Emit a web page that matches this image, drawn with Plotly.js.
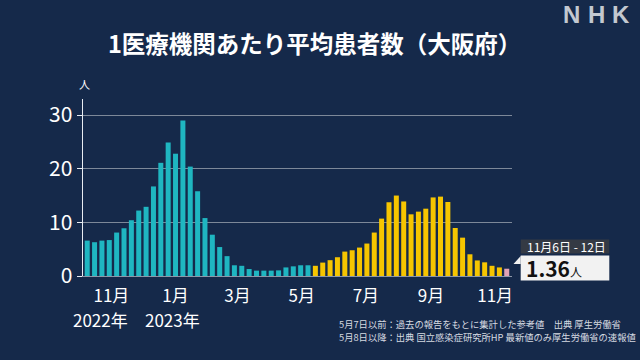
<!DOCTYPE html>
<html><head><meta charset="utf-8">
<script src="https://cdn.plot.ly/plotly-3.0.1.min.js"></script>
<style>html,body{margin:0;padding:0;background:#15294a;}#chart{width:640px;height:360px;}</style>
</head><body><div id="chart"></div>
<script>
// Week-ending dates (Sunday) of each weekly bar
const weekEnds = [
  '2022-10-09','2022-10-16','2022-10-23','2022-10-30','2022-11-06','2022-11-13','2022-11-20','2022-11-27',
  '2022-12-04','2022-12-11','2022-12-18','2022-12-25',
  '2023-01-01','2023-01-08','2023-01-15','2023-01-22','2023-01-29','2023-02-05','2023-02-12','2023-02-19','2023-02-26',
  '2023-03-05','2023-03-12','2023-03-19','2023-03-26','2023-04-02','2023-04-09','2023-04-16','2023-04-23','2023-04-30',
  '2023-05-07','2023-05-14','2023-05-21','2023-05-28','2023-06-04','2023-06-11','2023-06-18','2023-06-25',
  '2023-07-02','2023-07-09','2023-07-16','2023-07-23','2023-07-30','2023-08-06','2023-08-13','2023-08-20','2023-08-27',
  '2023-09-03','2023-09-10','2023-09-17','2023-09-24','2023-10-01','2023-10-08','2023-10-15','2023-10-22','2023-10-29',
  '2023-11-05','2023-11-12'
];
// Up to May 7: reference values (cyan)
const valuesBeforeMay7 = [6.6, 6.3, 6.6, 6.7, 8.1, 8.9, 10.4, 12.2, 12.9, 16.7, 21.1, 24.9, 22.8, 29.0, 20.4, 15.8,
  10.8, 7.7, 5.4, 3.7, 2.0, 1.9, 1.3, 1.0, 1.0, 1.0, 1.05, 1.6, 1.8, 2.0, 2.0];
// From May 8 (yellow)
const valuesFromMay8 = [1.9, 2.5, 2.95, 3.5, 4.55, 4.8, 5.3, 6.05, 8.1, 10.7, 13.75, 15.0, 13.9, 11.5, 12.0, 12.55,
  14.65, 14.8, 13.8, 8.95, 7.15, 4.05, 2.9, 2.55, 1.9, 1.6];
// Latest week (pink)
const latestValue = 1.36;
const latestLabel = '11月6日 - 12日';
const tickDates = ['2022-11-01','2023-01-01','2023-03-01','2023-05-01','2023-07-01','2023-09-01','2023-11-01'];
const tickLabels = ['11月','1月','3月','5月','7月','9月','11月'];
const yearLabels = ['2022年', '2023年'];
const titleText = '1医療機関あたり平均患者数（大阪府）';
const noteLines = ['5月7日以前：過去の報告をもとに集計した参考値　出典 厚生労働省',
                   '5月8日以降：出典 国立感染症研究所HP 最新値のみ厚生労働省の速報値'];

const BG = '#15294a', CYAN = '#1fb6c1', YELLOW = '#f6c500', PINK = '#e2a2b4';
const values = valuesBeforeMay7.concat(valuesFromMay8, [latestValue]);
const colors = valuesBeforeMay7.map(() => CYAN)
  .concat(valuesFromMay8.map(() => YELLOW), [PINK]);

const W = 640, H = 360, L = 83, R = 128, T = 99, B = 84;
const pw = W - L - R, ph = H - T - B;
const px = x => (x - L) / pw;
const py = y => (H - B - y) / ph;
const FONT = 'Noto Sans CJK JP';

const data = [{
  type: 'bar', x: weekEnds, y: values,
  marker: {color: colors, line: {width: 0}},
  hoverinfo: 'skip'
}];

function note(text, x, y, size, color, xanchor, family) {
  return {text: text, xref: 'paper', yref: 'paper', x: px(x), y: py(y), showarrow: false,
    xanchor: xanchor || 'center', yanchor: 'middle',
    font: {size: size, color: color, family: family || FONT}};
}

const ann = [
  note('人', 84, 83.5, 11, '#ffffff'),
  note(yearLabels[0], 100, 319, 17, '#ffffff'),
  note(yearLabels[1], 172, 319, 17, '#ffffff'),
  note(latestLabel, 566, 246.5, 12, '#ffffff'),
  note('<b>' + latestValue.toFixed(2) + '</b><span style="font-size:12px">人</span>', 524, 268, 21, '#111111', 'left'),
  note(noteLines[0], 337, 324, 9.3, '#d6dae1', 'left'),
  note(noteLines[1], 337, 337, 9.3, '#d6dae1', 'left'),
  note('<b>N</b>', 571, 15, 24, '#c3c8d0', 'center', 'Liberation Sans'),
  note('<b>H</b>', 596, 15, 24, '#c3c8d0', 'center', 'Liberation Sans'),
  note('<b>K</b>', 621, 15, 24, '#c3c8d0', 'center', 'Liberation Sans')
];

const shapes = [
  {type: 'rect', xref: 'paper', yref: 'paper', x0: px(520.7), x1: px(609.3), y0: py(253.5), y1: py(239.5),
   fillcolor: '#343a44', line: {width: 0}, layer: 'below'},
  {type: 'rect', xref: 'paper', yref: 'paper', x0: px(520.7), x1: px(609.3), y0: py(280.5), y1: py(255.5),
   fillcolor: '#f2f2f2', line: {width: 0}, layer: 'below'},
  {type: 'path', xref: 'paper', yref: 'paper',
   path: `M ${px(513.5)} ${py(264)} L ${px(520.7)} ${py(256)} L ${px(520.7)} ${py(264)} Z`,
   fillcolor: '#f2f2f2', line: {width: 0}, layer: 'below'}
];

const layout = {
  width: W, height: H, paper_bgcolor: BG, plot_bgcolor: BG,
  margin: {l: L, r: R, t: T, b: B, pad: 0},
  showlegend: false, bargap: 0.32,
  font: {family: FONT, color: '#ffffff'},
  title: {text: '<b>' + titleText + '</b>', xref: 'container', yref: 'container',
    x: 108 / W, xanchor: 'left', y: 1 - 45 / H, yanchor: 'middle',
    font: {size: 23.5, color: '#ffffff', family: FONT}},
  xaxis: {type: 'date', range: ['2022-10-05', '2023-11-17'], tickvals: tickDates, ticktext: tickLabels,
    ticks: '', ticklabelstandoff: 5, showgrid: false, zeroline: false, showline: true, linecolor: '#8d97a8', linewidth: 1,
    tickfont: {size: 17, color: '#ffffff', family: FONT}, fixedrange: true},
  yaxis: {range: [0, 33], tickvals: [0, 10, 20, 30], ticks: 'outside', ticklen: 5, tickcolor: '#e8ecf2',
    tickwidth: 1, showline: true, linecolor: '#e8ecf2', linewidth: 1.5, showgrid: true,
    gridcolor: '#7d8899', gridwidth: 1, zeroline: false,
    tickfont: {size: 21, color: '#ffffff', family: FONT}, fixedrange: true},
  annotations: ann, shapes: shapes
};
Plotly.newPlot('chart', data, layout, {staticPlot: true, displayModeBar: false});
</script></body></html>
